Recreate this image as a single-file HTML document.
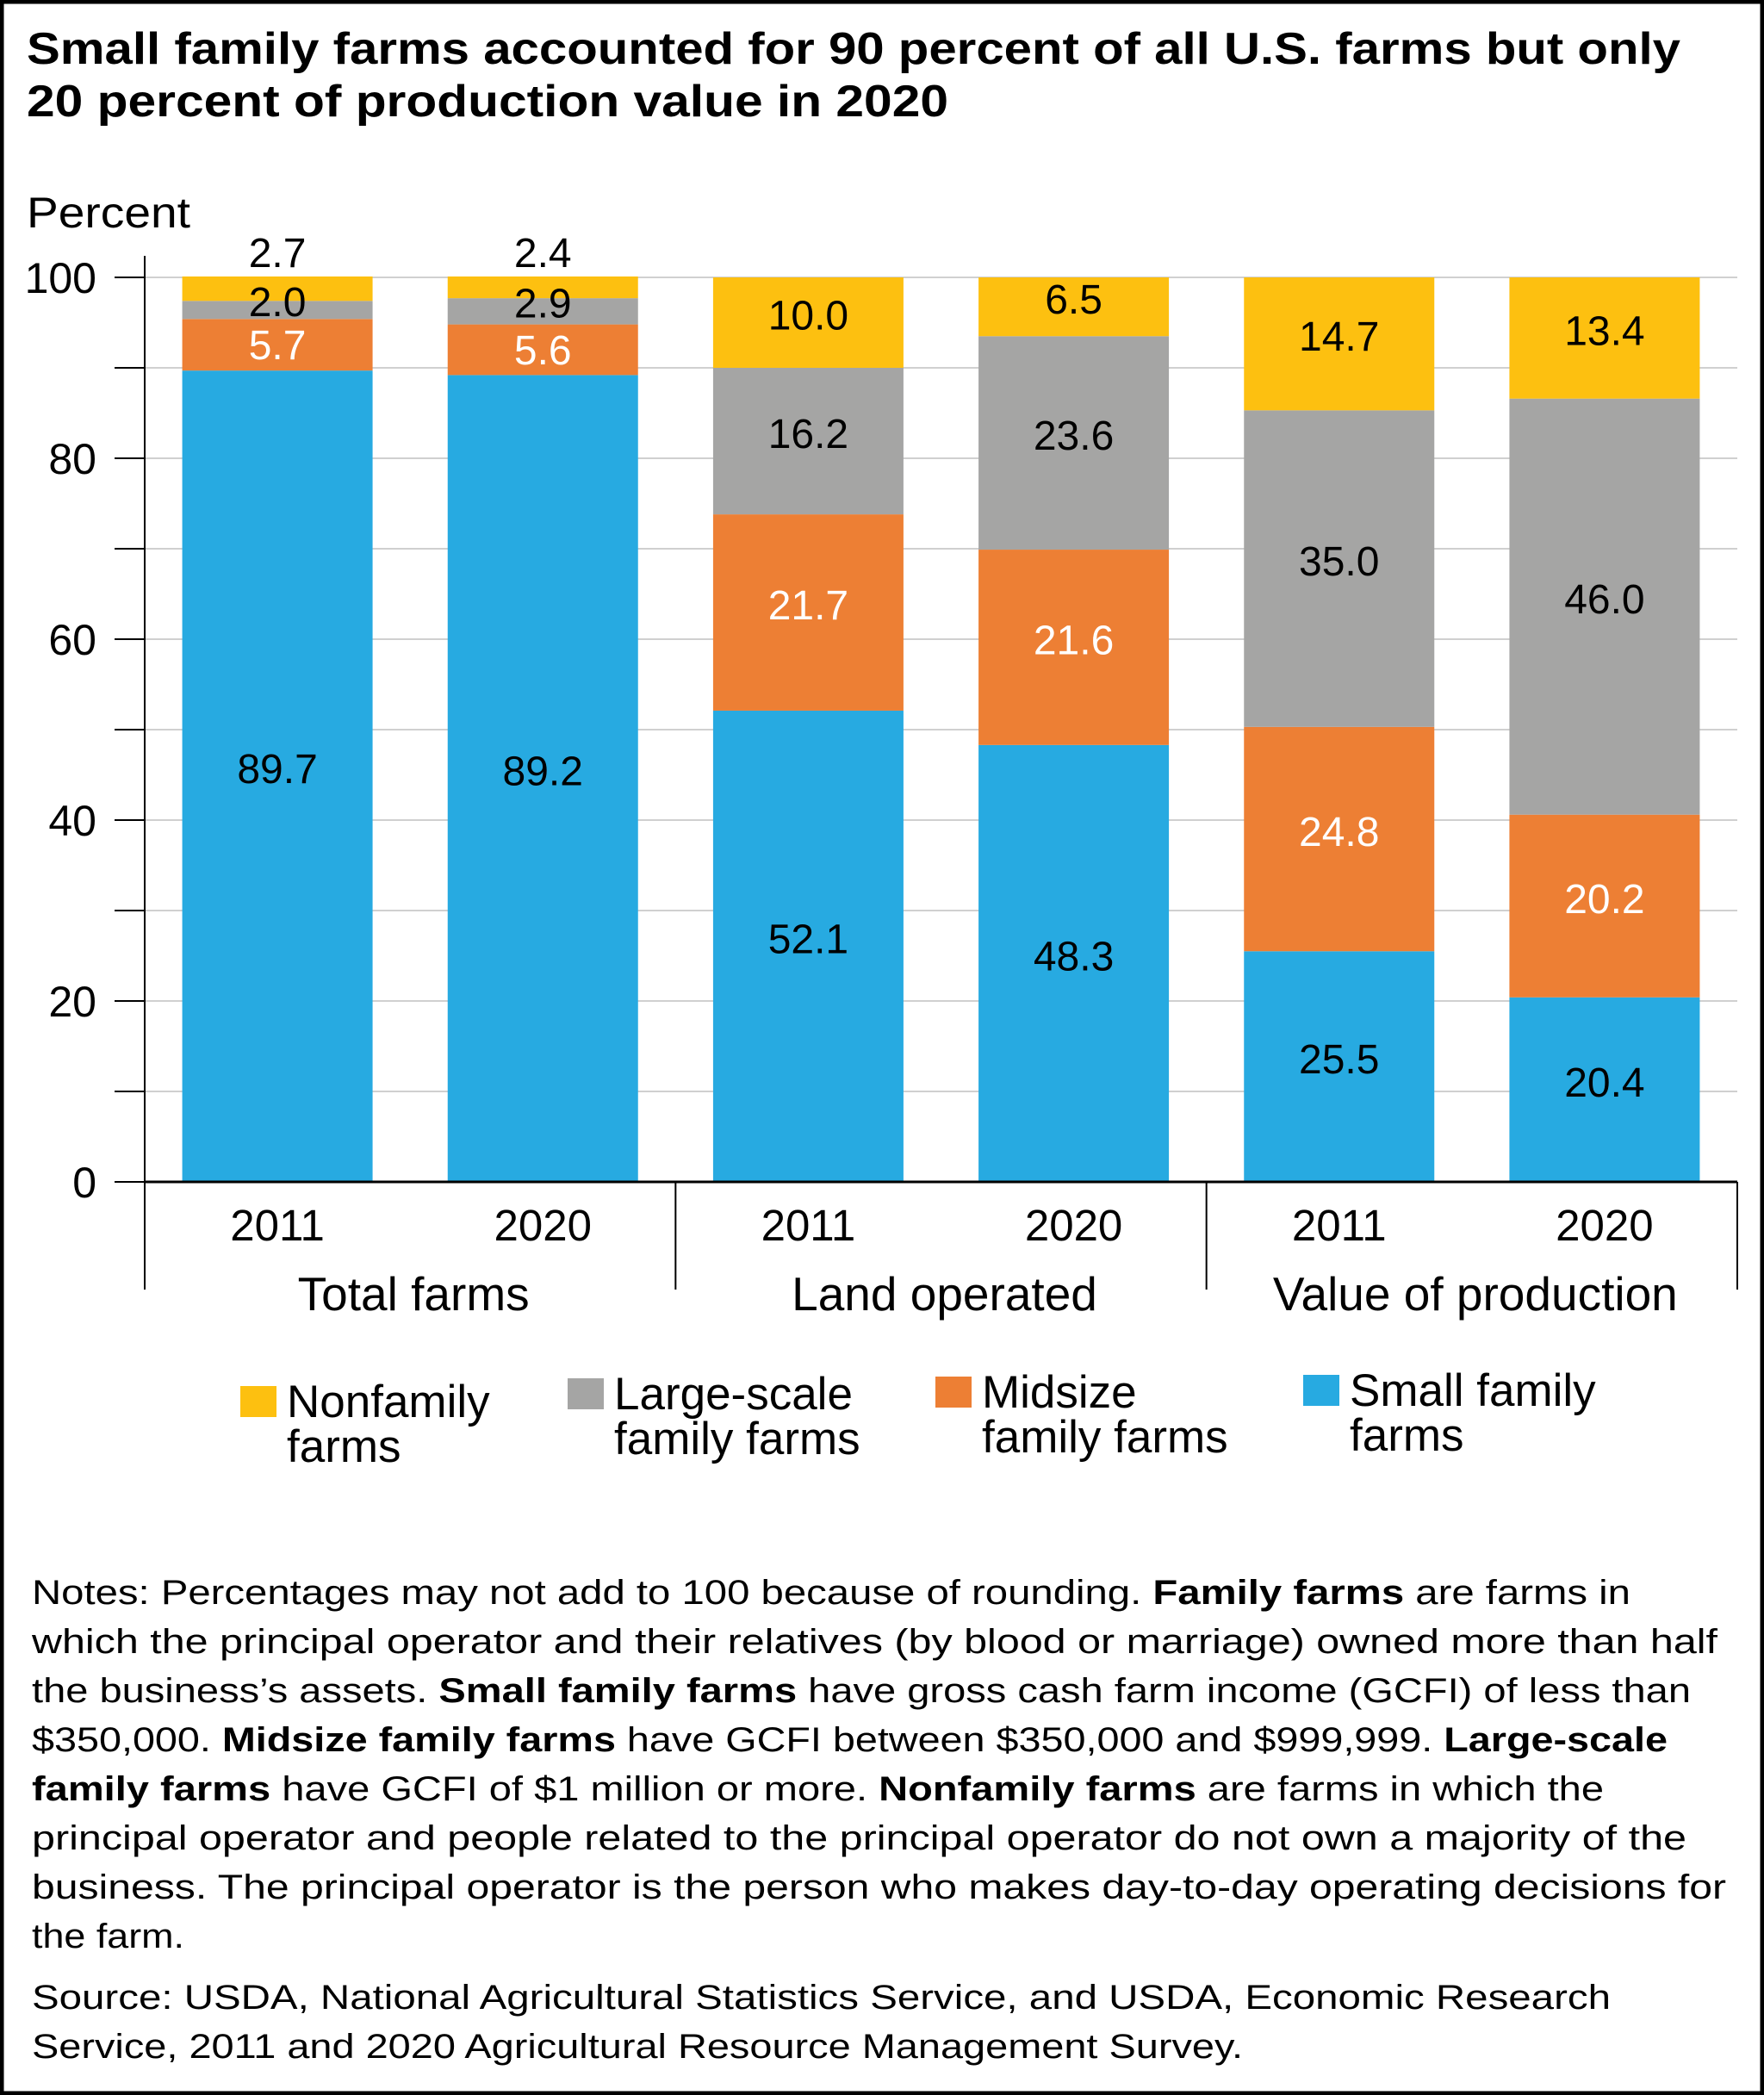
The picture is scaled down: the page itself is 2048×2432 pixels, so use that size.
<!DOCTYPE html>
<html><head><meta charset="utf-8"><style>
html,body{margin:0;padding:0;background:#fff}
svg{display:block}
text{font-family:"Liberation Sans",sans-serif}
</style></head><body>
<svg id="chart" width="2048" height="2432" viewBox="0 0 2048 2432" xmlns="http://www.w3.org/2000/svg">
<rect x="2" y="2" width="2044" height="2428" fill="#fff" stroke="#000" stroke-width="5"/>
<text x="31" y="74" font-size="52" font-weight="bold" textLength="1920" lengthAdjust="spacingAndGlyphs">Small family farms accounted for 90 percent of all U.S. farms but only</text>
<text x="31" y="135" font-size="52" font-weight="bold" textLength="1070" lengthAdjust="spacingAndGlyphs">20 percent of production value in 2020</text>
<text x="31" y="264" font-size="50" textLength="190" lengthAdjust="spacingAndGlyphs">Percent</text>
<g id="grid"></g><g id="bars"></g><g id="labels"></g><g id="axes"></g><g id="legend"></g>
<g font-size="40">
<text x="37" y="1862" textLength="1856" lengthAdjust="spacingAndGlyphs">Notes: Percentages may not add to 100 because of rounding. <tspan font-weight="bold">Family farms</tspan> are farms in</text>
<text x="37" y="1919" textLength="1957" lengthAdjust="spacingAndGlyphs">which the principal operator and their relatives (by blood or marriage) owned more than half</text>
<text x="37" y="1976" textLength="1926" lengthAdjust="spacingAndGlyphs">the business’s assets. <tspan font-weight="bold">Small family farms</tspan> have gross cash farm income (GCFI) of less than</text>
<text x="37" y="2033" textLength="1899" lengthAdjust="spacingAndGlyphs">$350,000. <tspan font-weight="bold">Midsize family farms</tspan> have GCFI between $350,000 and $999,999. <tspan font-weight="bold">Large-scale</tspan></text>
<text x="37" y="2090" textLength="1825" lengthAdjust="spacingAndGlyphs"><tspan font-weight="bold">family farms</tspan> have GCFI of $1 million or more. <tspan font-weight="bold">Nonfamily farms</tspan> are farms in which the</text>
<text x="37" y="2147" textLength="1921" lengthAdjust="spacingAndGlyphs">principal operator and people related to the principal operator do not own a majority of the</text>
<text x="37" y="2204" textLength="1967" lengthAdjust="spacingAndGlyphs">business. The principal operator is the person who makes day-to-day operating decisions for</text>
<text x="37" y="2261" textLength="177" lengthAdjust="spacingAndGlyphs">the farm.</text>
<text x="37" y="2332" textLength="1833" lengthAdjust="spacingAndGlyphs">Source: USDA, National Agricultural Statistics Service, and USDA, Economic Research</text>
<text x="37" y="2389" textLength="1406" lengthAdjust="spacingAndGlyphs">Service, 2011 and 2020 Agricultural Resource Management Survey.</text>
</g>
</svg>
<script>
const categories = ["2011","2020","2011","2020","2011","2020"];
const groups = ["Total farms","Land operated","Value of production"];
const small = [89.7, 89.2, 52.1, 48.3, 25.5, 20.4];
const midsize = [5.7, 5.6, 21.7, 21.6, 24.8, 20.2];
const large = [2.0, 2.9, 16.2, 23.6, 35.0, 46.0];
const nonfamily = [2.7, 2.4, 10.0, 6.5, 14.7, 13.4];
const yTicks = [0,20,40,60,80,100];
const seriesNames = ["Nonfamily farms","Large-scale family farms","Midsize family farms","Small family farms"];

const NS="http://www.w3.org/2000/svg";
const X0=168, X1=2017, Y0=1372, PXU=10.5;
const y = v => Y0 - v*PXU;
const slot = (X1-X0)/categories.length;
const barW = 221;
const xc = i => X0 + slot*(i+0.5);
function mk(tag, attrs, parent){const e=document.createElementNS(NS,tag);for(const k in attrs)e.setAttribute(k,attrs[k]);parent.appendChild(e);return e;}
const grid=document.getElementById('grid'), bars=document.getElementById('bars'), labels=document.getElementById('labels'), axes=document.getElementById('axes'), legend=document.getElementById('legend');

for(let v=10; v<=100; v+=10){
  const g=mk('line',{x1:X0,x2:X1,y1:y(v),y2:y(v),stroke:'#d0d0d0','stroke-width':2},grid);
  
  
}
for(let v=0; v<=100; v+=10){
  const t=mk('line',{x1:133,x2:X0,y1:y(v),y2:y(v),stroke:'#000','stroke-width':2},axes);
  
  
}
yTicks.forEach(v=>{
  const t=mk('text',{x:112,y:y(v)+18,'text-anchor':'end','font-size':50},axes);
  t.textContent=v;
  
  
});
const ax=mk('line',{x1:X0,x2:X0,y1:y(100)-25,y2:1497,stroke:'#000','stroke-width':2},axes);


const bx=mk('line',{x1:X0,x2:X1,y1:Y0,y2:Y0,stroke:'#000','stroke-width':3},axes);


for(let g=1; g<=groups.length; g++){
  const d=mk('line',{x1:X0+slot*2*g,x2:X0+slot*2*g,y1:Y0,y2:1497,stroke:'#000','stroke-width':2},axes);
  
  
}
groups.forEach((gname,g)=>{
  const t=mk('text',{x:X0+slot*(2*g+1)+4,y:1521,'text-anchor':'middle','font-size':55},axes);
  t.textContent=gname;
  
  
});

const colors=['#27AAE1','#ED7F34','#A5A5A4','#FDC010'];
const textCol=['#000','#fff','#000','#000'];
const names=['small','midsize','large','nonfamily'];
categories.forEach((c,i)=>{
  const vals=[small[i],midsize[i],large[i],nonfamily[i]];
  let base=0;
  vals.forEach((v,s)=>{
    const top=base+v;
    const r=mk('rect',{x:xc(i)-barW/2,y:y(top),width:barW,height:v*PXU,fill:colors[s]},bars);
    
    
    let ly=(y(base)+y(top))/2+8;
    if(v<8 && s===1) ly=(y(base)+y(top))/2+17;
    if(v<4 && s===2) ly=(y(base)+y(top))/2+7;
    if(v<4 && s===3) ly=y(top)-11;
    const t=mk('text',{x:xc(i),y:ly,'text-anchor':'middle','font-size':48,fill:textCol[s]},labels);
    t.textContent=v.toFixed(1);
    
    
    base=top;
  });
  const t=mk('text',{x:xc(i),y:1440,'text-anchor':'middle','font-size':51},axes);
  t.textContent=c;
  
  
});

const legX=[279,659,1086,1513];
const legCol=['#FDC010','#A5A5A4','#ED7F34','#27AAE1'];
const legLines=[["Nonfamily","farms"],["Large-scale","family farms"],["Midsize","family farms"],["Small family","farms"]];
const legY=[1609,1600,1598,1596];
seriesNames.forEach((n,k)=>{
  const g=mk('g',{},legend);
  
  
  mk('rect',{x:legX[k],y:legY[k],width:42,height:36,fill:legCol[k]},g);
  legLines[k].forEach((ln,j)=>{
    const t=mk('text',{x:legX[k]+54,y:legY[k]+36+j*52,'font-size':53},g);
    t.textContent=ln;
  });
});
</script>
</body></html>
